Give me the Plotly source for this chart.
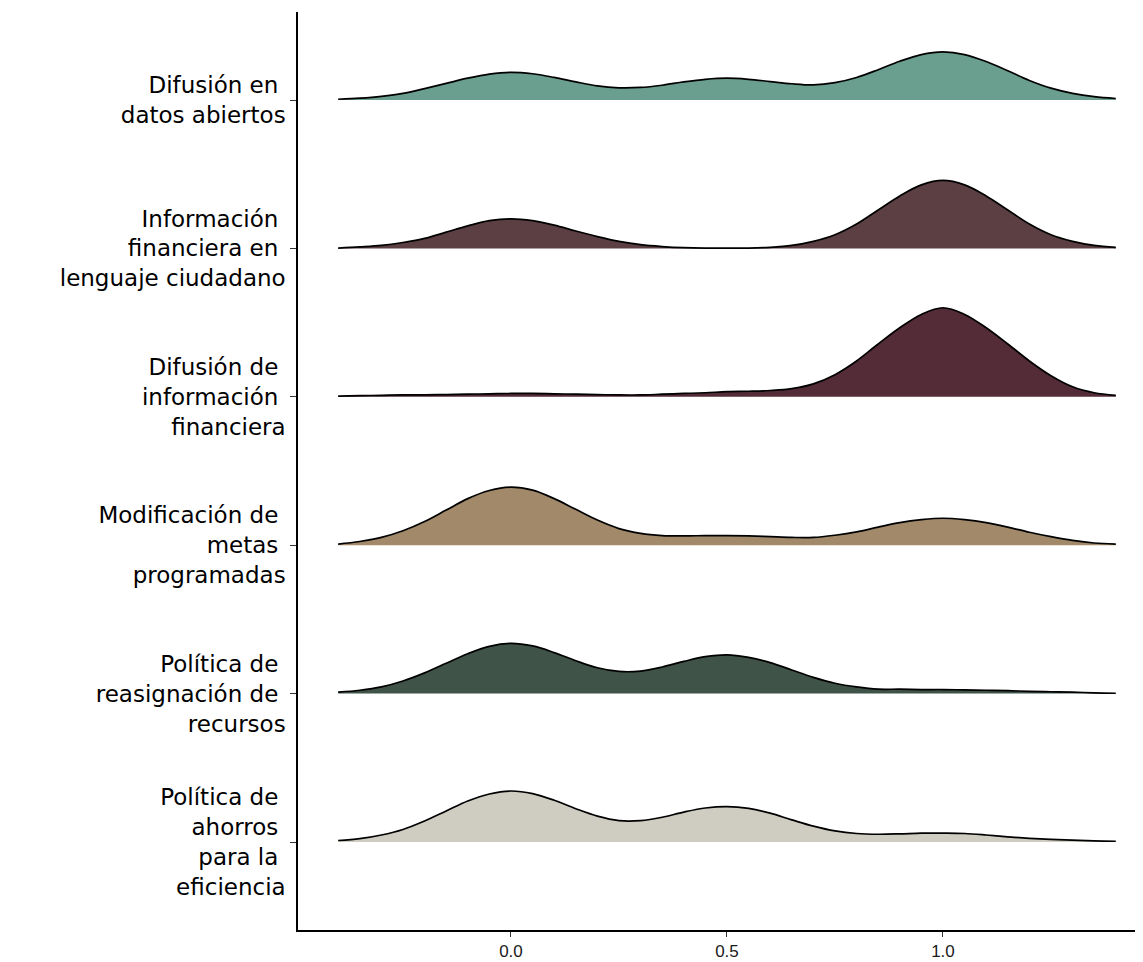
import plotly.graph_objects as go

# evaluation grid of the density estimates
x_grid = [-0.40, -0.35, -0.30, -0.25, -0.20, -0.15, -0.10, -0.05, 0.00, 0.05,
          0.10, 0.15, 0.20, 0.25, 0.30, 0.35, 0.40, 0.45, 0.50, 0.55,
          0.60, 0.65, 0.70, 0.75, 0.80, 0.85, 0.90, 0.95, 1.00, 1.05,
          1.10, 1.15, 1.20, 1.25, 1.30, 1.35, 1.40]

# categories, bottom to top
categories = [
    "Política de\u00a0<br>ahorros\u00a0<br>para la\u00a0<br>eficiencia",
    "Política de\u00a0<br>reasignación de\u00a0<br>recursos",
    "Modificación de\u00a0<br>metas\u00a0<br>programadas",
    "Difusión de\u00a0<br>información\u00a0<br>financiera",
    "Información\u00a0<br>financiera en\u00a0<br>lenguaje ciudadano",
    "Difusión en\u00a0<br>datos abiertos",
]

# density estimates, same order as categories
dens_ahorros = [0.04, 0.09, 0.19, 0.34, 0.57, 0.84, 1.11, 1.30, 1.38, 1.31,
                1.13, 0.90, 0.70, 0.58, 0.58, 0.67, 0.81, 0.92, 0.96, 0.91,
                0.78, 0.60, 0.43, 0.30, 0.23, 0.21, 0.22, 0.24, 0.24, 0.23,
                0.19, 0.14, 0.10, 0.07, 0.05, 0.03, 0.02]
dens_reasignacion = [0.04, 0.09, 0.18, 0.34, 0.56, 0.82, 1.08, 1.28, 1.36, 1.29,
                     1.11, 0.89, 0.70, 0.60, 0.61, 0.72, 0.87, 1.00, 1.05, 0.98,
                     0.84, 0.64, 0.44, 0.28, 0.18, 0.12, 0.12, 0.11, 0.11, 0.10,
                     0.09, 0.08, 0.06, 0.05, 0.04, 0.02, 0.01]
dens_metas = [0.03, 0.10, 0.21, 0.39, 0.64, 0.95, 1.26, 1.48, 1.57, 1.49,
              1.26, 0.97, 0.68, 0.45, 0.32, 0.26, 0.25, 0.26, 0.26, 0.25,
              0.23, 0.21, 0.21, 0.27, 0.36, 0.49, 0.61, 0.69, 0.73, 0.69,
              0.61, 0.49, 0.35, 0.23, 0.13, 0.06, 0.03]
dens_financiera = [0.02, 0.03, 0.04, 0.05, 0.05, 0.06, 0.07, 0.08, 0.09, 0.09,
                   0.08, 0.07, 0.06, 0.05, 0.05, 0.07, 0.09, 0.11, 0.14, 0.15,
                   0.17, 0.22, 0.35, 0.60, 0.97, 1.43, 1.87, 2.23, 2.41, 2.23,
                   1.87, 1.43, 0.97, 0.57, 0.27, 0.11, 0.04]
dens_ciudadano = [0.01, 0.04, 0.08, 0.16, 0.27, 0.44, 0.61, 0.75, 0.80, 0.75,
                  0.63, 0.47, 0.32, 0.19, 0.10, 0.05, 0.02, 0.01, 0.01, 0.01,
                  0.03, 0.08, 0.19, 0.37, 0.66, 1.04, 1.42, 1.72, 1.84, 1.72,
                  1.42, 1.04, 0.66, 0.37, 0.19, 0.08, 0.03]
dens_abiertos = [0.02, 0.05, 0.10, 0.18, 0.31, 0.45, 0.59, 0.70, 0.75, 0.71,
                 0.61, 0.49, 0.38, 0.33, 0.34, 0.40, 0.49, 0.56, 0.59, 0.56,
                 0.50, 0.44, 0.41, 0.47, 0.61, 0.82, 1.05, 1.23, 1.30, 1.23,
                 1.04, 0.79, 0.53, 0.32, 0.18, 0.09, 0.04]

densities = [dens_ahorros, dens_reasignacion, dens_metas,
             dens_financiera, dens_ciudadano, dens_abiertos]

colors = ["#CFCCC1", "#3F5349", "#A18969", "#542C37", "#5B3F43", "#6A9F90"]

SCALE = 0.249  # ridge height (in rows) per unit of density

fig = go.Figure()

# draw top ridge first so lower ones sit on top
for i in reversed(range(len(categories))):
    base = i + 1
    fig.add_trace(go.Scatter(
        x=x_grid, y=[base] * len(x_grid),
        mode="lines", line=dict(width=0, color="rgba(0,0,0,0)"),
        hoverinfo="skip", showlegend=False,
    ))
    fig.add_trace(go.Scatter(
        x=x_grid, y=[base + d * SCALE for d in densities[i]],
        mode="lines", line=dict(color="black", width=1.7, shape="spline", smoothing=1.0),
        fill="tonexty", fillcolor=colors[i],
        showlegend=False,
    ))

# the page adds an 8px body margin, so the figure is kept 8px smaller
fig.update_layout(
    width=1135, height=954,
    margin=dict(l=290, r=0, t=4, b=32),
    paper_bgcolor="white", plot_bgcolor="white",
    font=dict(family="DejaVu Sans", color="black"),
    showlegend=False,
)
fig.update_xaxes(
    range=[-0.493, 1.463], automargin=False,
    tickvals=[0.0, 0.5, 1.0], ticktext=["0.0", "0.5", "1.0"],
    showgrid=False, zeroline=False,
    showline=True, linecolor="black", linewidth=1.5,
    ticks="outside", ticklen=5, tickcolor="#333333", tickwidth=1,
    tickfont=dict(size=17, family="Liberation Sans", color="#1a1a1a"),
)
fig.update_yaxes(
    range=[0.407, 6.593], automargin=False,
    tickvals=[i + 1 for i in range(len(categories))], ticktext=categories,
    showgrid=False, zeroline=False,
    showline=True, linecolor="black", linewidth=1.5,
    ticks="outside", ticklen=6, tickcolor="#333333", tickwidth=1,
    tickfont=dict(size=23, family="DejaVu Sans", color="black"),
)

fig.write_html("out.html")
